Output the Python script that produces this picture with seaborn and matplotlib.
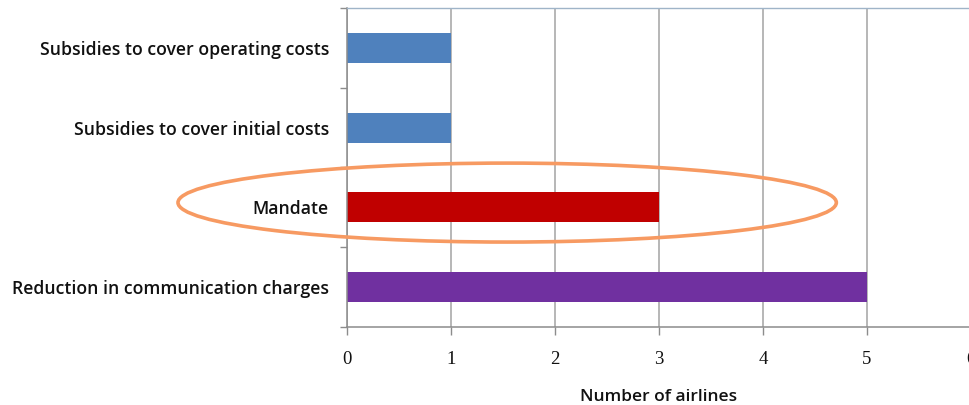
import matplotlib
matplotlib.use("Agg")
import matplotlib.pyplot as plt
from matplotlib.patches import Ellipse
import seaborn as sns
import pandas as pd

# Support measures and how many airlines named each
categories = [
    "Subsidies to cover operating costs",
    "Subsidies to cover initial costs",
    "Mandate",
    "Reduction in communication charges",
]
airlines = [1, 1, 3, 5]
bar_colors = ["#4F81BD", "#4F81BD", "#C00000", "#7030A0"]
x_ticks = [0, 1, 2, 3, 4, 5, 6]
x_label = "Number of airlines"
highlighted = "Mandate"

df = pd.DataFrame({"measure": categories, "airlines": airlines})

sns.set_theme(style="white")
plt.rcParams["font.family"] = ["Open Sans", "DejaVu Sans"]

fig = plt.figure(figsize=(9.69, 4.05), dpi=100)
ax = fig.add_axes([0.3581, 0.1926, 0.644, 0.7877])

sns.barplot(
    data=df, y="measure", x="airlines", hue="measure",
    palette=dict(zip(categories, bar_colors)), order=categories,
    width=0.376, saturation=1, legend=False, linewidth=0, ax=ax,
)

ax.set_xlim(x_ticks[0], x_ticks[-1])
ax.set_ylim(len(categories) - 0.5, -0.5)
ax.set_xticks(x_ticks)
ax.set_xticklabels([str(t) for t in x_ticks], family="Liberation Serif", fontsize=13.5)
ax.xaxis.grid(True, color="#A3A3A3", linewidth=1.1)
ax.set_axisbelow(True)

# category tick marks sit between bars
ax.set_yticks([i - 0.5 for i in range(len(categories) + 1)], minor=False)
ax.set_yticklabels([])
ax.set_yticks(range(len(categories)), minor=True)
ax.set_yticklabels(categories, minor=True, fontsize=12.7, weight="semibold", color="#111111")
ax.tick_params(axis="y", which="minor", length=0, pad=13)
ax.tick_params(axis="y", which="major", length=5, width=1, color="#8C8C8C", left=True)
ax.tick_params(axis="x", length=6, width=1, color="#8C8C8C", bottom=True, pad=11, colors="#111111")

for side in ("left", "bottom"):
    ax.spines[side].set_color("#8C8C8C")
    ax.spines[side].set_linewidth(1.1)
ax.spines["right"].set_visible(False)
ax.spines["top"].set_color("#9FB4C8")
ax.spines["top"].set_linewidth(1.0)

ax.set_xlabel(x_label, fontsize=12.5, weight="semibold", color="#111111", labelpad=15.5)
ax.set_ylabel("")

# highlight ring around the mandate row
yi = categories.index(highlighted)
ring = Ellipse((1.54, yi - 0.06), width=6.33, height=0.99, fill=False,
               edgecolor="#F79A62", linewidth=2.6, clip_on=False, zorder=5)
ax.add_patch(ring)

fig.savefig("out.png", dpi=100)
